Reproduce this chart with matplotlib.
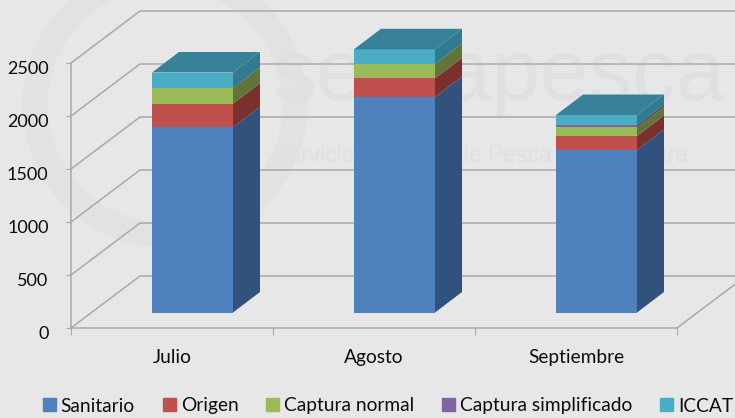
# Stacked bars with a drawn depth, as in the old spreadsheet 3D charts

import numpy as np

from matplotlib import pyplot as plt
from matplotlib.patches import Ellipse, Polygon
from matplotlib.transforms import ScaledTranslation

months = ['Julio', 'Agosto', 'Septiembre']
series_names = ['Sanitario', 'Origen', 'Captura normal', 'Captura simplificado', 'ICCAT']

sanitario = [1747, 2033, 1533]
origen = [223, 176, 132]
captura_normal = [148, 135, 82]
captura_simplificado = [0, 0, 19]
iccat = [146, 139, 97]

y_ticks = [0, 500, 1000, 1500, 2000, 2500]

front_colors = ['#4f81bd', '#c0504d', '#9bbb59', '#8064a2', '#4bacc6']
side_colors = ['#31527c', '#7b302e', '#627539', '#50406a', '#327a90']
top_color = '#378299'

bg_color = '#e7e7e7'
grid_color = '#a9a9a9'
mark_color = '#e0e0e2'
ring_color = '#e2e2e3'
text_color = '#0d0d0d'

# plot scale in pixels
W, H = 735, 418
px_x = 202.0   # one category
px_y = 0.106   # one unit of the value axis
x0_px, y0_px = 71, 328

fig = plt.figure(figsize=(W/100, H/100), dpi=100, facecolor=bg_color)
ax = fig.add_axes([0, 0, 1, 1])
ax.set_facecolor(bg_color)
ax.set_xlim(-x0_px/px_x, (W - x0_px)/px_x)
ax.set_ylim(-(H - y0_px)/px_y, y0_px/px_y)


def dx(px):
    return px/px_x


def dy(px):
    return px/px_y


# faint logo behind the chart
ax.add_patch(Ellipse((dx(94), dy(223)), dx(260), dy(260), fc='none', ec=ring_color,
                     lw=18, zorder=0))
ax.text(dx(202), dy(228), 'sernapesca', fontsize=63, family='Liberation Sans',
        color=mark_color, va='baseline', ha='left', zorder=0)
ax.text(dx(202), dy(166), 'Servicio Nacional de Pesca y Acuicultura', fontsize=16.5,
        family='Liberation Sans', color=mark_color, va='baseline', ha='left', zorder=0)

# back wall and floor
wall_x, wall_y = 69, 52
for v in y_ticks:
    ax.plot([0, dx(wall_x), 3 + dx(wall_x)], [v, v + dy(wall_y), v + dy(wall_y)],
            color=grid_color, lw=1.1, zorder=1)
ax.plot([3, 3 + dx(wall_x)], [0, dy(wall_y)], color=grid_color, lw=1.1, zorder=1)

for side in ['top', 'right']:
    ax.spines[side].set_visible(False)
ax.spines['left'].set_position(('data', 0))
ax.spines['bottom'].set_position(('data', 0))
ax.spines['left'].set_bounds(0, 2500)
ax.spines['bottom'].set_bounds(0, 3)
ax.spines['left'].set_color(grid_color)
ax.spines['bottom'].set_color(grid_color)
ax.spines['left'].set_linewidth(1.1)
ax.spines['bottom'].set_linewidth(1.1)

font = 'Lato'
ax.set_yticks(y_ticks)
ax.set_yticklabels(y_ticks, fontsize=13, family=font, color=text_color)
ax.set_xticks(np.arange(4))
ax.set_xticklabels([])
ax.set_xticks(np.arange(3) + 0.5, minor=True)
ax.set_xticklabels(months, minor=True, fontsize=13.8, family=font, color=text_color)
ax.tick_params(axis='y', length=3.6, color=grid_color, pad=12.5)
ax.tick_params(axis='x', which='major', length=5, color=grid_color)
ax.tick_params(axis='x', which='minor', length=0, pad=15)

# the value labels sit a little below their ticks
shift = ScaledTranslation(0, -3/72, fig.dpi_scale_trans)
for lbl in ax.get_yticklabels():
    lbl.set_transform(lbl.get_transform() + shift)

# bars
bar_w, bar_x, bar_lift = 81, 27, 15.5
bar_y = 20.5
stacks = np.array([sanitario, origen, captura_normal, captura_simplificado, iccat], dtype=float)
bottoms = np.vstack([np.zeros(3), np.cumsum(stacks, axis=0)[:-1]])
offset = dy(bar_lift)

for i in range(len(months)):
    left = i + dx(81)
    right = left + dx(bar_w)
    for j, name in enumerate(series_names):
        if stacks[j, i] == 0:
            continue
        low = bottoms[j, i] + offset
        high = low + stacks[j, i]
        ax.bar(left, stacks[j, i], width=dx(bar_w), bottom=low, align='edge',
               color=front_colors[j], zorder=3)
        ax.add_patch(Polygon([(right, low), (right + dx(bar_x), low + dy(bar_y)),
                              (right + dx(bar_x), high + dy(bar_y)), (right, high)],
                             fc=side_colors[j], ec='none', zorder=3))
    top = bottoms[-1, i] + stacks[-1, i] + offset
    ax.add_patch(Polygon([(left, top), (left + dx(bar_x), top + dy(bar_y)),
                          (right + dx(bar_x), top + dy(bar_y)), (right, top)],
                         fc=top_color, ec='none', zorder=3))

# legend
handles = [plt.Rectangle((0, 0), 1, 1, color=c) for c in front_colors]
leg = ax.legend(handles, series_names, ncol=5, loc='center', frameon=False,
                bbox_to_anchor=(388/W, 1 - 406/H),
                prop={'family': font, 'size': 13.8},
                handlelength=0.68, handleheight=0.68, handletextpad=0.26,
                columnspacing=1.45, borderpad=0, borderaxespad=0)
for t in leg.get_texts():
    t.set_color(text_color)

fig.savefig('out.png', dpi=100, facecolor=bg_color)
